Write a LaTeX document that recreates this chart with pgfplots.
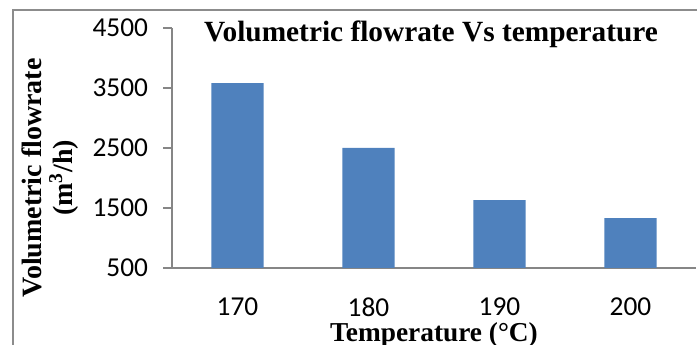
\documentclass[border=0pt]{standalone}
\usepackage{pgfplots}
\pgfplotsset{compat=1.18}
\usepackage{fontspec}
\setmainfont{Liberation Serif}
\newfontfamily\carlito{Carlito}
\definecolor{barblue}{HTML}{4F81BD}
\definecolor{axgray}{HTML}{868686}
\definecolor{framegray}{HTML}{8C8C8C}
\begin{document}
\begin{tikzpicture}[x=0.75pt,y=0.75pt]
\useasboundingbox (0,0) rectangle (697,345);
% chart frame
\draw[framegray, line width=1pt] (13,0) -- (13,335) -- (697,335);
\begin{axis}[
  at={(129pt,57.75pt)}, anchor=south west,
  width=393pt, height=180pt, scale only axis,
  xmin=-0.5, xmax=3.5, ymin=500, ymax=4500,
  ytick={500,1500,2500,3500,4500},
  xtick={0,1,2,3}, xticklabels={170,180,190,200},
  extra x ticks={-0.5,0.5,1.5,2.5,3.5}, extra x tick labels={},
  axis x line*=bottom, axis y line*=left,
  axis line style={axgray, line width=1.1pt},
  tick style={axgray, line width=1.1pt},
  tick align=outside,
  major tick length=6.5pt,
  x tick style={draw=none},
  extra x tick style={tick style={axgray, line width=1.1pt, draw=axgray}},
  ticklabel style={font=\carlito\fontsize{20.5}{24}\selectfont, text=black},
  /pgf/number format/assume math mode=true,
  /pgf/number format/1000 sep={},
  yticklabel style={xshift=-8pt},
  xticklabel style={yshift=-14.5pt, inner sep=1pt},
  ybar, bar width=0.4,
  clip=false,
]
\addplot[fill=barblue, draw=none] coordinates {(0,3580) (1,2500) (2,1630) (3,1330)};
\end{axis}
\node[font=\bfseries\fontsize{22}{26}\selectfont, anchor=base] at (431,303) {Volumetric flowrate Vs temperature};
\node[font=\bfseries\fontsize{20.5}{24}\selectfont, anchor=base, inner sep=1pt] at (434,3.5) {Temperature (°C)};
\node[font=\bfseries\fontsize{21}{23}\selectfont, align=center, rotate=90] at (50,167) {Volumetric flowrate\\(m\textsuperscript{3}/h)};
\end{tikzpicture}
\end{document}
